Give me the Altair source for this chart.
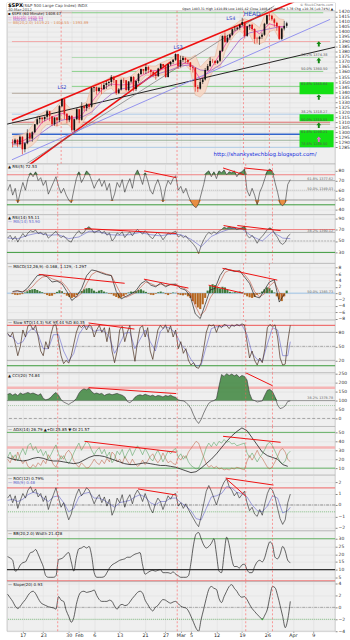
import json
import altair as alt
import pandas as pd

FONT = "DejaVu Sans"
W = 330
XDOM = [-2.123, 62.29]

# ---------------- time axis (trading-day index) ----------------
tick_pos = [1, 5, 10, 12, 15, 20, 25, 29, 32, 34, 39, 44, 49, 54, 58]
tick_lab = ["17", "23", "30", "Feb", "6", "13", "21", "27", "Mar", "5", "12", "19", "26", "Apr", "9"]
event_days = [7.84, 31.3, 44.75, 50.0]

day_t = list(range(-2, 54))
half_t = [d + h for d in day_t for h in (0.0, 0.5)]
even_t = list(range(-2, 54, 2))
ma_t = even_t + [53]
rsi_ma_t = even_t + [53.5]
day_plus_t = day_t + [53.5]

# ---------------- price bars (two per trading day) ----------------
first_open = 1290.0
bar_close = [
    1289, 1292.5, 1288, 1295.5, 1283, 1289, 1299, 1293.7, 1300, 1308,
    1313, 1314.5, 1313, 1315.4, 1321, 1316, 1308, 1314.7, 1312, 1326,
    1333, 1318.4, 1312, 1316.3, 1302, 1313, 1323, 1312.4, 1326, 1324,
    1328, 1325.5, 1344, 1344.9, 1341, 1344.3, 1343, 1347, 1349, 1350,
    1355, 1352, 1339, 1342.6, 1352, 1351.8, 1342, 1350.5, 1355, 1343.2,
    1351, 1358, 1363, 1361.2, 1365, 1362.2, 1360, 1357.7, 1356, 1363.5,
    1368, 1365.7, 1355, 1367.6, 1370, 1372.2, 1378, 1365.7, 1372, 1374.1,
    1372, 1369.6, 1365, 1364.3, 1345, 1343.4, 1350, 1352.6, 1362, 1365.9,
    1371, 1370.9, 1369, 1371.1, 1381, 1396, 1390, 1394.3, 1397, 1402.6,
    1403, 1404.2, 1407, 1409.8, 1396, 1405.5, 1407, 1402.9, 1393, 1392.8,
    1395, 1397.1, 1408, 1416.5, 1416, 1412.5, 1409, 1405.5, 1393, 1403.3,
    1406, 1408.5,
]
bar_high = [
    1293, 1293.8, 1293, 1296.8, 1296, 1290, 1303, 1300, 1301, 1308.1,
    1315.5, 1315, 1315, 1315.6, 1322.3, 1321, 1316, 1315, 1315, 1327,
    1333.5, 1333, 1319, 1316.8, 1317, 1313.5, 1324, 1323, 1330, 1327,
    1329, 1329, 1345.3, 1345, 1345.5, 1344.8, 1348, 1349.2, 1351, 1351,
    1357, 1356, 1352, 1344, 1353.4, 1354, 1352, 1351, 1355.9, 1356,
    1352, 1359, 1363.4, 1363, 1367.8, 1366, 1362.5, 1361, 1359, 1364.2,
    1368.9, 1368, 1366, 1368, 1371, 1373, 1378.5, 1378.2, 1376.2, 1376,
    1374.5, 1373, 1370, 1367, 1364.5, 1347, 1354, 1354.3, 1364, 1368,
    1374.8, 1373, 1371.9, 1372, 1382, 1396.2, 1399.4, 1397, 1398, 1403,
    1405.9, 1405, 1408, 1414, 1410.2, 1406, 1407.4, 1408, 1403.5, 1395,
    1396, 1399.2, 1409, 1416.6, 1419.2, 1417, 1413.7, 1410, 1406, 1404,
    1410.9, 1410,
]
bar_low = [
    1285, 1288, 1285, 1287, 1278, 1280, 1288, 1291, 1290.5, 1299,
    1307, 1309, 1309, 1311, 1313, 1311, 1306, 1306.5, 1306, 1310,
    1325, 1313, 1309, 1310, 1300, 1301, 1312, 1309, 1311.5, 1321,
    1321, 1323, 1324.5, 1340, 1337.5, 1340, 1338, 1342, 1343, 1346,
    1346, 1349, 1337.3, 1338, 1341.5, 1349, 1340.8, 1341, 1349, 1340.6,
    1341, 1349, 1357, 1358, 1358, 1359, 1356, 1355.5, 1352.3, 1355,
    1363, 1364, 1354.2, 1354.5, 1366, 1368, 1371, 1363, 1364.5, 1370,
    1369, 1368, 1362, 1359.5, 1340.5, 1340, 1342.5, 1348, 1351.5, 1361,
    1365, 1369, 1367, 1368, 1370, 1380, 1389, 1389, 1392, 1396,
    1401, 1401.5, 1402, 1406, 1393.4, 1395, 1402, 1401, 1388.4, 1389,
    1387, 1393, 1396, 1407, 1412, 1411, 1405, 1401, 1391.6, 1392,
    1401.4, 1404,
]
bb_upper = [
    1296, 1297, 1298, 1300, 1307, 1316, 1319, 1322, 1321, 1326,
    1332, 1327, 1322, 1323, 1328, 1330, 1346, 1349, 1350, 1352,
    1356, 1356, 1355, 1354, 1356, 1360, 1365, 1367, 1366, 1366,
    1369, 1371, 1373, 1377, 1376, 1375, 1374, 1377, 1365, 1370,
    1375, 1375, 1396, 1400, 1404, 1407, 1411, 1413, 1411, 1408,
    1404, 1416, 1420, 1418, 1413, 1412,
]
bb_lower = [
    1286, 1287, 1284, 1284, 1287, 1292, 1303, 1308, 1307, 1306,
    1308, 1309, 1304, 1303, 1308, 1316, 1318, 1331, 1338, 1342,
    1344, 1338, 1339, 1340, 1342, 1342, 1351, 1357, 1356, 1354,
    1357, 1357, 1361, 1363, 1364, 1367, 1362, 1337, 1335, 1340,
    1355, 1365, 1364, 1380, 1390, 1397, 1401, 1397, 1397, 1388,
    1388, 1390, 1400, 1402, 1393, 1396,
]
ma_pink = [1291, 1291, 1297, 1310, 1315, 1319, 1314, 1317, 1330, 1342, 1348, 1347, 1348, 1356, 1361,
           1362, 1366, 1369, 1368, 1353, 1362, 1378, 1395, 1405, 1405, 1398, 1408, 1405, 1405]
ma_purple = [1288, 1289, 1292, 1300, 1307, 1312, 1314, 1315, 1320, 1330, 1338, 1343, 1345, 1349, 1355,
             1359, 1362, 1366, 1367, 1362, 1361, 1367, 1379, 1392, 1399, 1401, 1403, 1405, 1405]

# ---------------- indicator panels ----------------
rsi5 = [
    60, 66, 55, 62, 47, 58, 68, 60, 72, 78, 74, 79, 70, 73, 65, 70, 56, 62, 68, 74,
    64, 57, 62, 55, 50, 47, 60, 72, 79, 68, 73, 80, 77, 70, 62, 68, 72, 64, 70, 60,
    67, 49, 56, 68, 63, 71, 58, 66, 72, 62, 76, 81, 74, 66, 78, 70, 60, 56, 65, 71,
    63, 48, 62, 70, 66, 72, 75, 60, 64, 57, 62, 54, 48, 44, 42, 46, 56, 66, 78, 80,
    74, 79, 72, 80, 78, 81, 76, 79, 78, 80, 74, 78, 79, 82, 60, 54, 62, 55, 45, 58,
    64, 72, 80, 82, 79, 68, 58, 46, 44, 47, 66, 71,
]
rsi14 = [
    55, 60, 52, 58, 48, 56, 63, 57, 64, 68, 66, 69, 63, 65, 61, 64, 55, 59, 63, 67,
    60, 56, 59, 54, 50, 48, 57, 63, 68, 62, 65, 72, 75, 70, 64, 67, 69, 63, 67, 60,
    64, 50, 55, 64, 61, 66, 56, 62, 66, 59, 66, 70, 66, 62, 68, 63, 57, 54, 61, 65,
    60, 52, 58, 64, 62, 65, 67, 57, 60, 56, 59, 53, 49, 44, 38, 28, 42, 52, 60, 65,
    62, 66, 63, 67, 70, 74, 72, 75, 73, 74, 70, 72, 73, 76, 60, 55, 60, 54, 46, 54,
    58, 64, 70, 73, 70, 62, 56, 47, 44, 48, 58, 62,
]
rsi14_ma = [55, 54, 60, 64, 60, 61, 54, 57, 67, 66, 61, 60, 61, 65, 61, 59, 62, 61, 53, 40,
            58, 66, 72, 71, 58, 50, 66, 55, 54]
macd_line = [
    0.5, 0.8, 0.3, 1.5, 3.5, 5.5, 5.8, 5.2, 3.5, 3.8,
    3.0, 0.5, -2.3, -1.0, 1.5, 5.5, 7.3, 7.0, 6.3, 5.8,
    5.5, 0.5, -1.8, -1.0, -0.2, 0.8, 3.0, 4.0, 2.5, 2.0,
    3.2, 2.0, 2.8, 2.8, 1.5, 1.0, -1.0, -6.5, -8.0, -3.5,
    1.0, 1.5, 5.5, 7.8, 7.2, 6.8, 7.0, 5.0, 3.0, -1.0,
    -1.5, 1.0, 3.5, 4.2, -2.8, -0.3,
]
macd_signal = [
    0.3, 0.5, 0.5, 0.8, 2.0, 3.8, 5.0, 5.4, 4.5, 4.0,
    3.5, 1.8, -0.5, -1.3, 0.0, 3.0, 5.8, 6.8, 6.6, 6.0,
    5.6, 2.5, -0.5, -1.3, -0.6, 0.2, 2.0, 3.5, 3.0, 2.3,
    2.8, 2.4, 2.6, 2.8, 2.0, 1.3, 0.0, -4.0, -7.0, -5.5,
    -1.5, 0.8, 3.5, 6.5, 7.3, 7.0, 7.0, 5.8, 3.8, 0.5,
    -1.2, -0.2, 2.2, 3.6, 0.2, -1.2,
]
macd_hist = [
    -0.3, -0.5, -0.6, -0.4, -0.3, 0.2, 0.6, 1.0, 1.2, 1.3, 1.0, 0.6, 0.3, -0.2, -0.6, -0.9,
    -0.8, -0.3, 0.4, 0.9, 0.6, -0.3, -0.8, -1.2, -1.5, -1.2, -0.6, 0.2, 0.7, 1.2, 1.5, 1.6,
    1.4, 0.8, 0.4, 0.8, 1.0, 0.5, 0.2, -0.2, -0.3, -0.8, -1.2, -1.6, -1.4, -0.9, -0.4, 0.2,
    0.5, 0.4, 0.6, 1.0, 1.2, 0.8, 0.4, -0.2, -0.5, -0.6, -0.2, 0.3, 0.5, 0.2, -0.3, -0.6,
    -0.2, 0.2, 0.1, -0.4, -0.6, -0.7, -0.5, -1.0, -1.5, -2.5, -3.5, -4.5, -5.0, -3.5, -1.5, 0.8,
    2.2, 2.8, 2.5, 1.8, 1.5, 2.0, 1.8, 1.0, 0.4, 0.2, 0.3, 0.2, 0.5, 0.3, -0.5, -1.0,
    -1.3, -1.5, -1.2, -0.5, -0.3, 0.5, 1.2, 1.8, 1.6, 0.9, 0.2, -1.0, -2.0, -2.5, -1.0, 0.8,
]
sto_k = [
    78, 70, 80, 55, 30, 50, 85, 70, 94, 96, 85, 95, 70, 40, 30, 60, 45, 75, 95, 96,
    60, 30, 13, 20, 14, 30, 55, 80, 95, 90, 96, 85, 96, 92, 70, 85, 95, 80, 90, 60,
    90, 40, 15, 40, 85, 93, 60, 80, 95, 50, 18, 60, 90, 94, 70, 90, 40, 22, 55, 85,
    95, 88, 96, 80, 94, 70, 85, 45, 60, 35, 45, 20, 10, 15, 5, 3, 15, 45, 80, 96,
    94, 96, 80, 95, 90, 97, 95, 88, 96, 93, 97, 94, 98, 96, 60, 25, 40, 20, 10, 25,
    15, 45, 90, 97, 92, 96, 70, 25, 10, 12, 60, 95,
]
sto_d = [75, 70, 55, 60, 80, 90, 75, 45, 45, 75, 75, 40, 18, 35, 75, 92, 92, 82, 85, 82,
         70, 35, 55, 78, 80, 45, 65, 85, 60, 40, 82, 92, 88, 78, 55, 42, 22, 8, 10, 50,
         88, 92, 92, 95, 94, 95, 96, 75, 35, 22, 18, 55, 90, 85, 30, 30, 60]
cci = [
    135, 140, 130, 138, 128, 142, 135, 140, 145, 138, 142, 136, 130, 138, 112, 104,
    108, 118, 135, 145, 130, 105, 92, 85, 78, 88, 95, 112, 140, 158, 165, 160,
    168, 150, 138, 142, 136, 140, 128, 135, 138, 132, 136, 140, 134, 130, 120, 95,
    88, 100, 118, 128, 132, 128, 135, 130, 125, 130, 122, 128, 126, 120, 128, 124,
    130, 122, 118, 104, 100, 98, 90, 75, 55, 20, -10, -28, -5, 30, 60, 85,
    95, 100, 110, 180, 245, 235, 250, 240, 248, 238, 245, 230, 240, 235, 215, 140,
    105, 100, 92, 95, 98, 130, 158, 162, 150, 120, 75, 55, 60, 70, 95, 98,
]
adx = [22, 20, 19, 18, 19, 21, 22, 21, 19, 18, 18, 17, 16, 15, 16, 19, 22, 24, 24, 23,
       21, 19, 17, 15, 14, 14, 15, 16, 15, 14, 13, 13, 12, 11, 9, 7, 5, 6, 10, 15,
       20, 26, 33, 40, 46, 51, 55, 52, 44, 36, 28, 24, 22, 20, 14, 12]
plus_di = [
    22, 28, 20, 25, 18, 26, 32, 25, 35, 38, 30, 34, 27, 31, 24, 29, 20, 25, 31, 36,
    26, 20, 24, 18, 15, 20, 27, 33, 38, 30, 35, 40, 37, 30, 25, 30, 33, 26, 31, 23,
    28, 16, 20, 29, 25, 31, 21, 27, 32, 24, 30, 35, 31, 25, 32, 27, 21, 18, 25, 30,
    24, 17, 23, 29, 26, 30, 32, 22, 26, 20, 24, 17, 13, 11, 9, 10, 16, 24, 33, 38,
    34, 39, 35, 40, 38, 42, 39, 40, 37, 38, 35, 36, 37, 38, 27, 22, 27, 22, 17, 22,
    26, 31, 37, 39, 35, 29, 23, 17, 15, 18, 26, 29,
]
minus_di = [
    20, 16, 24, 18, 28, 20, 15, 19, 12, 10, 14, 11, 16, 13, 19, 15, 25, 20, 14, 11,
    18, 24, 20, 27, 30, 26, 18, 14, 11, 16, 13, 10, 11, 15, 20, 16, 14, 19, 15, 21,
    17, 28, 25, 17, 20, 15, 23, 18, 14, 20, 15, 12, 14, 19, 14, 18, 23, 26, 20, 16,
    20, 27, 21, 16, 18, 15, 14, 22, 19, 24, 21, 28, 32, 36, 40, 38, 30, 22, 15, 11,
    13, 10, 12, 9, 10, 8, 9, 8, 10, 9, 11, 10, 9, 8, 18, 24, 19, 24, 30, 24,
    21, 16, 11, 9, 12, 17, 23, 30, 32, 28, 20, 17,
]
roc = [
    0.6, 0.9, 0.2, 0.8, -0.3, 0.4, 1.0, 0.6, 1.3, 1.6, 1.1, 1.4, 0.7, 1.0, 0.3, 0.8,
    -0.4, 0.3, 0.9, 1.5, 0.6, -0.2, 0.2, -0.6, -1.3, -0.8, 0.2, 0.9, 1.4, 0.8, 1.1, 1.5,
    1.3, 0.7, 0.1, 0.6, 0.9, 0.2, 0.7, -0.1, 0.5, -0.9, -0.4, 0.6, 0.2, 0.9, -0.2, 0.5,
    0.9, 0.1, 0.9, 1.3, 0.9, 0.3, 1.0, 0.4, -0.3, -0.7, 0.1, 0.6, 0.3, -0.4, 0.2, 0.8,
    0.5, 0.9, 1.0, -0.1, 0.2, -0.3, 0.1, -0.4, -0.8, -1.2, -1.6, -1.9, -1.0, 0.1, 1.2, 1.7,
    1.2, 0.6, 0.0, 0.7, 1.5, 2.0, 2.3, 1.6, 1.3, 0.8, 1.1, 0.6, 0.9, 1.2, 0.2, -0.5,
    -0.2, -0.8, -1.0, -0.4, -0.9, 0.1, 1.0, 1.5, 1.3, 0.7, -0.3, -1.2, -1.7, -1.3, 0.2, 0.95,
]
roc_ma = [0.4, 0.5, 0.3, 0.5, 0.9, 1.1, 1.0, 0.6, 0.3, 0.7,
          0.8, 0.2, -0.6, -0.3, 0.7, 1.0, 1.1, 0.6, 0.6, 0.4,
          0.1, -0.2, 0.2, 0.3, 0.4, 0.7, 0.9, 0.7, 0.2, 0.0,
          0.3, 0.3, 0.6, 0.6, 0.2, -0.1, -0.5, -1.2, -1.3, -0.3,
          0.7, 0.8, 1.0, 1.6, 1.5, 1.1, 1.0, 0.7, 0.0, -0.5,
          -0.6, -0.1, 0.8, 0.6, -0.7, -0.5, -0.2]
bb_width = [
    18.4, 17.5, 16, 9, 10, 13, 14.5, 15, 18, 21, 21.5, 23, 20, 16, 12, 6,
    5, 5, 5, 6, 16.5, 17, 18, 20, 21, 15, 9, 18, 23.5, 24, 25, 24,
    25, 19, 8, 5, 5, 5, 5.5, 8, 11, 13, 14, 15, 16, 16.5, 17, 18,
    18, 19, 20, 20.5, 21, 13, 7, 8, 9, 9.5, 9, 9.5, 10, 8, 8, 8,
    7.5, 8.5, 7, 6, 5, 5, 5, 6, 14.5, 26, 33, 34, 30, 26, 24, 25,
    27, 30, 20, 9, 8, 20, 31, 26, 17, 12, 12, 11, 13, 13.5, 10, 8,
    8, 12, 15, 16, 15, 18, 24, 28, 26, 18, 17, 20, 25, 22, 16, 14.5,
]
slope20 = [
    2.2, 1.6, 1.0, 0.2, -0.2, 0.2, 0.8, 1.3, 2.0, 2.5, 2.7, 2.3, 1.5, 0.8, 0.5, 0.3,
    0.1, 0.0, -0.1, -0.3, 1.8, 1.2, 1.0, -0.5, -1.5, -2.5, -1.7, 0.5, 2.0, 2.6, 2.7, 2.5,
    2.6, 2.7, 2.9, 2.0, 1.3, 1.0, 1.0, 1.0, 1.2, 1.0, 0.2, -0.3, 0.3, 0.5, 0.3, 0.4,
    0.9, 1.5, 2.0, 2.5, 2.7, 2.4, 1.2, 0.5, -0.2, -0.6, 0.0, 0.3, 0.9, 1.3, 1.2, 0.9,
    0.7, 0.9, 1.0, 0.6, 0.2, 0.0, -0.1, -0.6, -1.5, -2.5, -3.5, -4.0, -2.0, -0.3, 1.5, 3.0,
    3.5, 3.2, 3.0, 1.5, 0.8, 1.8, 2.7, 3.5, 3.8, 3.2, 2.7, 2.0, 1.7, 1.8, 1.3, 0.5,
    -0.2, -0.7, -1.2, -1.6, -2.0, -1.3, -0.3, 1.8, 3.5, 3.3, 2.0, 0.3, -1.5, -3.4, -2.0, 1.0,
]

# ---------------- annotations ----------------
price_levels = [  # price, from, to, colour, width
    (1419.0, -2.123, 10.0, "#b08a78", 0.6),
    (1419.0, 10.0, 60.9, "#7ccc7c", 0.9),
    (1390.3, -2.123, 62.29, "#f2a0a0", 0.9),
    (1374.4, 10.0, 60.9, "#9ad49a", 0.7),
    (1360.6, 10.0, 60.9, "#7ccc7c", 0.9),
    (1345.7, 10.0, 62.29, "#7ccc7c", 0.9),
    (1338.8, -2.123, 62.29, "#9a8a7a", 0.7),
    (1318.0, -2.123, 62.29, "#a8c8e8", 0.9),
    (1310.0, -2.123, 62.29, "#e06060", 0.9),
    (1308.0, -2.123, 62.29, "#8a8a66", 0.7),
    (1298.0, -2.123, 62.29, "#3366cc", 1.5),
    (1292.0, -2.123, 62.29, "#7a9a7a", 0.7),
    (1285.0, -2.123, 62.29, "#a8c8e8", 0.9),
]
fib_text = [(1374.4, "38.2% 1374.38"), (1360.6, "50.0% 1360.50"), (1345.7, "61.8% 1345.64"),
            (1318.0, "38.2% 1318.27"), (1310.0, "50.0% 1310.55"), (1298.0, "61.8% 1298.21"),
            (1286.2, "78.6% 1286.50")]
green_boxes = [(56.1, 63.0, 1337.8, 1349.7), (56.1, 63.0, 1311.0, 1318.0), (56.1, 63.0, 1285.0, 1302.0)]
price_trend = [  # t1, p1, t2, p2, colour, width
    (-2.123, 1312.0, 55.0, 1429.9, "#ee1111", 1.6),
    (-0.56, 1260.6, 30.0, 1370.0, "#ee1111", 1.6),
    (-3.1, 1308.1, 64.6, 1386.3, "#222222", 1.0),
    (0.8, 1268.5, 51.0, 1425.9, "#666666", 0.6),
    (-2.123, 1272.6, 62.29, 1412.4, "#8888ee", 0.9),
]
arrows = [(60.0, 1388.0, "#118811"), (60.0, 1371.5, "#118811"), (60.0, 1335.0, "#118811"),
          (60.0, 1307.0, "#118811"), (60.0, 1293.0, "#e070d0")]
pattern_labels = [(46.5, 1418.0, "HEAD", 6.0), (42.2, 1413.5, "LS4", 5.0),
                  (31.5, 1385.0, "LS3", 5.0), (8.0, 1345.5, "LS2", 5.0)]

LABEL_EXPR = json.dumps(tick_lab) + "[indexof(" + json.dumps(tick_pos) + ", datum.value)]"
ONE = pd.DataFrame({"k": [0]})


class Panel:
    def __init__(self, lo, hi, ticks, height, bottom=False):
        self.lo, self.hi, self.ticks, self.height, self.bottom = lo, hi, ticks, height, bottom

    def x(self, f="t"):
        if self.bottom:
            ax = alt.Axis(values=tick_pos, labelExpr=LABEL_EXPR, grid=True, ticks=True, tickSize=1,
                          labelFontSize=4.8, labelPadding=0.5, domain=False, labelColor="#222222",
                          tickColor="#888888", labelFont=FONT, labelFlush=False)
        else:
            ax = alt.Axis(values=tick_pos, grid=True, ticks=False, labels=False, domain=False)
        return alt.X(f + ":Q", scale=alt.Scale(domain=XDOM, nice=False, zero=False), axis=ax, title=None)

    def y(self, f):
        ax = alt.Axis(orient="right", values=self.ticks, grid=True, ticks=True, tickSize=2,
                      labelFontSize=4.5, labelPadding=1, domain=False, labelColor="#333333",
                      tickColor="#888888", labelFont=FONT, labelOverlap=False, labelFlush=False,
                      format="~r")
        return alt.Y(f + ":Q", scale=alt.Scale(domain=[self.lo, self.hi], nice=False, zero=False),
                     axis=ax, title=None)

    def chart(self, layers):
        return alt.layer(*layers).properties(width=W, height=self.height)


def text_px(x, y, s, size=4.2, color="#111111", weight="normal", align="left"):
    return alt.Chart(ONE).mark_text(align=align, baseline="top", fontSize=size, font=FONT,
                                    color=color, fontWeight=weight).encode(
        x=alt.value(x), y=alt.value(y), text=alt.value(s))


def events(p, y0=None, y1=None):
    m = alt.Chart(pd.DataFrame({"t": event_days})).mark_rule(color="#ff5a5a", strokeWidth=0.6,
                                                            strokeDash=[2, 2])
    if y0 is None:
        return m.encode(x=p.x("t"))
    return m.encode(x=p.x("t"), y=alt.value(y0), y2=alt.value(y1))


def level(p, v, color, width=0.8, dash=None):
    kw = dict(color=color, strokeWidth=width)
    if dash:
        kw["strokeDash"] = dash
    return alt.Chart(pd.DataFrame({"v": [v]})).mark_rule(**kw).encode(y=p.y("v"))


def seglines(p, segs, color="#ee1111", width=1.0):
    df = pd.DataFrame(segs, columns=["a", "va", "b", "vb"])
    return alt.Chart(df).mark_rule(color=color, strokeWidth=width, clip=True).encode(
        x=p.x("a"), x2=alt.X2("b"), y=p.y("va"), y2=alt.Y2("vb"))


def line(p, t, v, color, width=0.7, interp="linear"):
    df = pd.DataFrame({"t": t, "v": v})
    return alt.Chart(df).mark_line(color=color, strokeWidth=width, interpolate=interp, clip=True).encode(
        x=p.x("t"), y=p.y("v"))


def fill_above(p, t, v, thr, color):
    df = pd.DataFrame({"t": t, "v": v})
    return alt.Chart(df).transform_calculate(top="max(datum.v, %s)" % thr, base=str(thr)).mark_area(
        color=color, opacity=0.95, clip=True).encode(x=p.x("t"), y=p.y("top"), y2=alt.Y2("base"))


def fill_below(p, t, v, thr, color):
    df = pd.DataFrame({"t": t, "v": v})
    return alt.Chart(df).transform_calculate(bot="min(datum.v, %s)" % thr, base=str(thr)).mark_area(
        color=color, opacity=0.95, clip=True).encode(x=p.x("t"), y=p.y("bot"), y2=alt.Y2("base"))


# ================= price panel =================
p1 = Panel(1268.5, 1428.9, list(range(1285, 1421, 5)), 162)
L = []
L.append(alt.Chart(ONE).mark_rect(color="white").encode(
    x=alt.value(0), x2=alt.value(W), y=alt.value(0), y2=alt.value(8)))
L.append(alt.Chart(ONE).mark_rule(color="#b0b0b0", strokeWidth=0.6).encode(
    x=alt.value(0), x2=alt.value(W), y=alt.value(8)))
lv = pd.DataFrame(price_levels, columns=["p", "a", "b", "col", "w"])
for _, r in lv.iterrows():
    L.append(alt.Chart(pd.DataFrame({"p": [r.p], "a": [r.a], "b": [r.b]})).mark_rule(
        color=r.col, strokeWidth=float(r.w), clip=True).encode(x=p1.x("a"), x2=alt.X2("b"), y=p1.y("p")))
bb = pd.DataFrame({"t": day_t, "lo": bb_lower, "hi": bb_upper})
L.append(alt.Chart(bb).mark_area(color="#f7d6c2", opacity=0.85).encode(
    x=p1.x("t"), y=p1.y("lo"), y2=alt.Y2("hi")))
L.append(line(p1, day_t, bb_upper, "#e4ad92", 0.5))
L.append(line(p1, day_t, bb_lower, "#e4ad92", 0.5))
for (a, va, b, vb, col, w) in price_trend:
    L.append(seglines(p1, [(a, va, b, vb)], col, w))
L.append(line(p1, ma_t, ma_purple, "#9a66cc", 0.8))
L.append(line(p1, ma_t, ma_pink, "#e845b0", 0.8))
L.append(events(p1, 8, 162))
cd = pd.DataFrame({"t": half_t, "c": bar_close, "h": bar_high, "l": bar_low})
cd["o"] = [first_open] + bar_close[:-1]
ccol = alt.condition("datum.c < datum.o", alt.value("#dd1111"), alt.value("#111111"))
L.append(alt.Chart(cd).mark_rule(strokeWidth=0.6).encode(x=p1.x("t"), y=p1.y("l"), y2=alt.Y2("h"), color=ccol))
L.append(alt.Chart(cd).mark_bar(size=1.7).encode(x=p1.x("t"), y=p1.y("o"), y2=alt.Y2("c"), color=ccol))
gb = pd.DataFrame(green_boxes, columns=["a", "b", "p1", "p2"])
L.append(alt.Chart(gb).mark_rect(color="#14e014", clip=True).encode(
    x=p1.x("a"), x2=alt.X2("b"), y=p1.y("p1"), y2=alt.Y2("p2")))
ft = pd.DataFrame({"t": [56.4] * len(fib_text), "p": [f[0] for f in fib_text], "s": [f[1] for f in fib_text]})
L.append(alt.Chart(ft).mark_text(align="left", baseline="bottom", dy=-0.3, fontSize=3.5, font=FONT,
                                 color="#555555").encode(x=p1.x("t"), y=p1.y("p"), text="s:N"))
ARROW = "M-0.35,1 L-0.35,0 L-0.9,0 L0,-1 L0.9,0 L0.35,0 L0.35,1 Z"
ar = pd.DataFrame(arrows, columns=["t", "p", "col"])
L.append(alt.Chart(ar).mark_point(shape=ARROW, filled=True, size=30, opacity=1).encode(
    x=p1.x("t"), y=p1.y("p"), color=alt.Color("col:N", scale=None)))
for (t, pv, s, sz) in pattern_labels:
    L.append(alt.Chart(pd.DataFrame({"t": [t], "p": [pv]})).mark_text(
        fontSize=sz, font=FONT, color="#3344cc", align="center", baseline="middle").encode(
        x=p1.x("t"), y=p1.y("p"), text=alt.value(s)))
L.append(alt.Chart(pd.DataFrame({"t": [49.1], "p": [1278.4]})).mark_text(
    fontSize=5.5, font=FONT, color="#2233dd", align="center", baseline="middle").encode(
    x=p1.x("t"), y=p1.y("p"), text=alt.value("http://shankystechblog.blogspot.com/")))
L.append(text_px(1, 0.5, "$SPX", 5.2, "#000000", "bold"))
L.append(text_px(16, 1.0, "(S&P 500 Large Cap Index) INDX", 4.0, "#444444"))
L.append(text_px(1, 5.2, "30-Mar-2012", 3.8, "#444444"))
L.append(text_px(1, 9.6, "\u25aa $SPX (60 Minute) 1408.47", 3.8, "#111111"))
L.append(text_px(1, 12.9, "\u2014 MA(20) 1405.53", 3.8, "#e845b0"))
L.append(text_px(1, 15.6, "\u2014 MA(50) 1396.13", 3.8, "#9a66cc"))
L.append(text_px(1, 18.6, "\u2014 BB(20,2.0) 1419.21 - 1406.55 - 1393.89", 3.8, "#e08a50"))
L.append(text_px(W - 2, 0.3, "\u00a9 StockCharts.com", 3.4, "#777777", align="right"))
L.append(text_px(W - 2, 3.9, "Open 1403.31  High 1410.89  Low 1401.42  Close 1408.47  Volume 3.7B  Chg +10.36 (+0.74%) \u25b2",
                 3.2, "#111111", align="right"))
panel1 = p1.chart(L)

# ================= RSI(5) =================
p2 = Panel(34.9, 87.2, [40, 50, 60, 70, 80], 51)
panel2 = p2.chart([
    level(p2, 76, "#f08080", 1.0), level(p2, 70, "#999999", 0.7), level(p2, 60, "#999999", 0.6, [1, 1]),
    level(p2, 50, "#888888", 0.8), level(p2, 45, "#3a9a3a", 1.0),
    fill_above(p2, half_t, rsi5, 76, "#4f8f4f"), fill_below(p2, half_t, rsi5, 50, "#e8893a"),
    line(p2, half_t, rsi5, "#333333", 0.6),
    seglines(p2, [(24.8, 80, 31.1, 73), (40.3, 83, 44.4, 76), (44.4, 83, 50.0, 80)]),
    events(p2),
    text_px(1, 1.5, "\u25b2 RSI(5) 72.53", 4.0),
    text_px(W - 2, 13.5, "61.8% 1377.62", 3.4, "#666666", align="right"),
    text_px(W - 2, 23.5, "50.0% 1349.03", 3.4, "#666666", align="right"),
])

# ================= RSI(14) =================
p3 = Panel(10.9, 96.1, [10, 30, 50, 70, 90], 49)
panel3 = p3.chart([
    level(p3, 70, "#f08080", 1.0), level(p3, 65, "#999999", 0.7), level(p3, 50, "#888888", 0.6, [2, 1]),
    level(p3, 30, "#3a9a3a", 1.0),
    fill_above(p3, half_t, rsi14, 70, "#4f8f4f"), fill_below(p3, half_t, rsi14, 30, "#e8893a"),
    line(p3, rsi_ma_t, rsi14_ma, "#6666cc", 0.6),
    line(p3, half_t, rsi14, "#333333", 0.6),
    seglines(p3, [(13.1, 71.7, 31.1, 63), (40.4, 77, 44.75, 70), (43.1, 77, 51.6, 68)]),
    events(p3),
    text_px(1, 1.5, "\u25b2 RSI(14) 55.11", 4.0),
    text_px(1, 5.8, "\u2014 MA(14) 53.90", 4.0, "#6666cc"),
    text_px(W - 2, 14.5, "38.2% 1390.12", 3.4, "#666666", align="right"),
])

# ================= MACD =================
p4 = Panel(-8.44, 9.375, [-8, -6, -4, -2, 0, 2, 4, 6, 8], 57)
hd = pd.DataFrame({"t": half_t, "h": macd_hist, "z": [0.0] * len(half_t)})
hcol = alt.condition("datum.h >= 0", alt.value("#3d7a3d"), alt.value("#b5651d"))
panel4 = p4.chart([
    level(p4, 0, "#9ec5e8", 1.0),
    alt.Chart(hd).mark_bar(size=2.1).encode(x=p4.x("t"), y=p4.y("h"), y2=alt.Y2("z"), color=hcol),
    line(p4, day_t, macd_signal, "#c0503a", 0.6),
    line(p4, day_t, macd_line, "#222222", 0.7),
    seglines(p4, [(3.3, 5.9, 20.7, 3.1), (24.6, 4.4, 33.6, 1.6), (40.5, 7.8, 51.6, 4.1), (37.7, 2.5, 44.6, 0.0)]),
    events(p4),
    text_px(1, 1.5, "\u2014 MACD(12,26,9) -0.168, 1.129, -1.297", 4.0),
    text_px(W - 2, 26.5, "50.0% 1385.73", 3.4, "#666666", align="right"),
])

# ================= Slow STO =================
p5 = Panel(-6.4, 106.4, [20, 50, 80], 53)
panel5 = p5.chart([
    level(p5, 95, "#ee5555", 1.0), level(p5, 80, "#999999", 0.7), level(p5, 50, "#777777", 0.6, [3, 1, 1, 1]),
    level(p5, 20, "#999999", 0.7), level(p5, 8.5, "#3a9a3a", 1.0),
    line(p5, day_plus_t, sto_d, "#6666cc", 0.6),
    line(p5, half_t, sto_k, "#4a3020", 0.7),
    seglines(p5, [(13.9, 100, 22.9, 87)]),
    events(p5),
    text_px(1, 1.5, "\u2014 Slow STO(14,3) %K 95.44  %D 80.35", 4.0),
])

# ================= CCI =================
p6 = Panel(-44.4, 255.6, [0, 50, 100, 150, 200, 250], 54)
panel6 = p6.chart([
    level(p6, 172, "#f5b5b5", 2.5), level(p6, 100, "#888888", 0.8),
    level(p6, 72, "#77aa77", 0.6, [1, 1]), level(p6, 0, "#777777", 0.6, [3, 2]),
    fill_above(p6, half_t, cci, 100, "#4f8f4f"),
    line(p6, half_t, cci, "#333333", 0.6),
    seglines(p6, [(13.9, 172, 31.1, 139), (44.75, 255, 50.0, 183)]),
    events(p6),
    text_px(1, 1.5, "\u25b2 CCI(20) 74.84", 4.0),
    text_px(W - 2, 23.5, "38.2% 1378.78", 3.4, "#666666", align="right"),
])

# ================= ADX =================
p7 = Panel(2.2, 56.7, [10, 20, 30, 40, 50], 49)
panel7 = p7.chart([
    level(p7, 50, "#55aa55", 0.9), level(p7, 33, "#f5b5b5", 2.5), level(p7, 10, "#55aa55", 0.9),
    line(p7, half_t, minus_di, "#bb5533", 0.5),
    line(p7, half_t, plus_di, "#44994f", 0.5),
    line(p7, day_t, adx, "#222222", 0.8),
    seglines(p7, [(13.1, 40, 31.1, 27.8), (40.3, 45.6, 51.6, 38.9)]),
    events(p7),
    text_px(1, 1.5, "\u2014 ADX(14) 26.79  \u25b2+DI 25.85  \u25bc-DI 21.57", 4.0),
])

# ================= ROC =================
p8 = Panel(-2.26, 2.61, [-2, -1, 0, 1, 2], 56)
panel8 = p8.chart([
    level(p8, 1.5, "#f08080", 1.2), level(p8, 0, "#555555", 0.6, [3, 1, 1, 1]),
    level(p8, -0.6, "#55aa55", 0.7, [1, 1]),
    line(p8, day_plus_t, roc_ma, "#6666cc", 0.6),
    line(p8, half_t, roc, "#222222", 0.6),
    seglines(p8, [(23.6, 1.4, 31.1, 0.87), (40.8, 2.35, 50.2, 1.74), (41.0, 2.26, 44.75, 0.78)]),
    events(p8),
    text_px(1, 1.5, "\u2014 ROC(12) 0.79%", 4.0),
    text_px(1, 5.8, "\u2014 MA(9) 0.48", 4.0, "#6666cc"),
])

# ================= BB width =================
p9 = Panel(2.26, 35.16, [5, 10, 15, 20, 25, 30], 51)
panel9 = p9.chart([
    level(p9, 30, "#55aa55", 0.9), level(p9, 10, "#333333", 1.2), level(p9, 2.6, "#ee4444", 1.0),
    line(p9, half_t, bb_width, "#222222", 0.7, "monotone"),
    events(p9),
    text_px(1, 1.5, "\u2014 BB(20,2.0) Width 21.428", 4.0),
])

# ================= Slope =================
p10 = Panel(-4.0, 4.33, [-4, -2, 0, 2, 4], 50, bottom=True)
panel10 = p10.chart([
    level(p10, 0, "#777777", 0.6, [3, 1, 1, 1]), level(p10, -2, "#55aa55", 0.7, [1, 1]),
    line(p10, half_t, slope20, "#222222", 0.7, "monotone"),
    alt.Chart(pd.DataFrame({"t": [48.0], "v": [-2.0]})).mark_point(filled=True, size=4, color="#22aa22").encode(
        x=p10.x("t"), y=p10.y("v")),
    events(p10),
    text_px(1, 1.5, "\u2014 Slope(20) 0.93", 4.0),
])

chart = alt.vconcat(panel1, panel2, panel3, panel4, panel5, panel6, panel7, panel8, panel9, panel10,
                    spacing=0, bounds="flush", padding={"left": 5, "top": 0, "right": 0, "bottom": 0},
                    background="white").resolve_scale(x="independent", y="independent").configure_view(
    fill="#efefef", stroke="#aaaaaa", strokeWidth=0.6).configure_axis(
    gridColor="#dcdcdc", gridWidth=0.5)

chart.save("out.html", embed_options={"renderer": "svg", "actions": False})
